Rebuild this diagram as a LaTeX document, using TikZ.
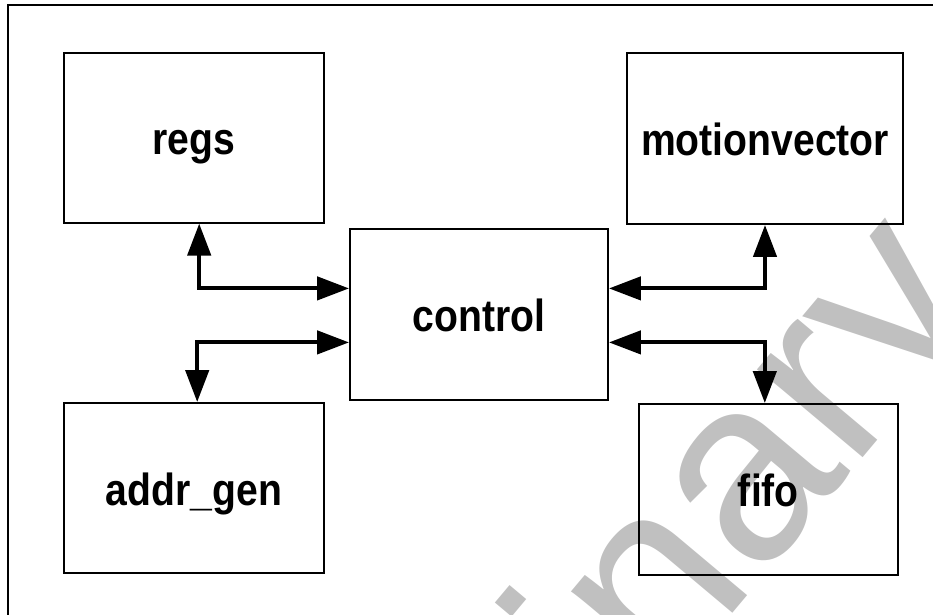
\documentclass[tikz,border=0pt]{standalone}
\usepackage{fontspec}
\setmainfont{Liberation Sans}
\newfontfamily\blkfont[FakeStretch=0.87]{Liberation Sans Bold}
\usepackage{xcolor}
\usetikzlibrary{arrows.meta,positioning}
\definecolor{wmgray}{RGB}{192,192,192}

\begin{document}
\begin{tikzpicture}[>={Triangle[length=0.8cm,width=0.58cm]},
  blk/.style={draw,line width=1.4pt,minimum width=6.5cm,minimum height=4.25cm,inner sep=0pt,text height=1.1cm,text depth=0.25cm,font=\blkfont\fontsize{32}{36}\selectfont},
  link/.style={<->,line width=2.8pt}]
\useasboundingbox (0,0) rectangle (23.325,-15.35);
\clip (0,0) rectangle (23.325,-15.35);
% watermark behind everything
\node[wmgray,rotate=50,anchor=base,inner sep=0pt,font=\fontsize{185}{200}\selectfont] (wm) at (14.325,-20.1) {Preliminary};
\draw[line width=1.4pt] (0.2,-15.6) -- (0.2,-0.125) -- (23.6,-0.125);
% blocks
\node[blk] (regs) at (4.84,-3.44) {regs};
\node[blk,minimum width=6.9cm,minimum height=4.28cm] (mv) at (19.125,-3.46) {motionvector};
\node[blk,minimum width=6.45cm,minimum height=4.28cm] (control) at (11.975,-7.86) {control};
\node[blk] (addr) at (4.85,-12.2) {addr\_gen};
\node[blk,minimum width=6.48cm,minimum height=4.28cm] (fifo) at (19.21,-12.24) {fifo};
% links
\draw[link] ([xshift=0.14cm]regs.south) |- ([yshift=0.65cm]control.west);
\draw[link] ([xshift=0.08cm]addr.north) |- ([yshift=-0.7cm]control.west);
\draw[link] (mv.south) |- ([yshift=0.65cm]control.east);
\draw[link] ([xshift=-0.09cm]fifo.north) |- ([yshift=-0.7cm]control.east);
\end{tikzpicture}
\end{document}
